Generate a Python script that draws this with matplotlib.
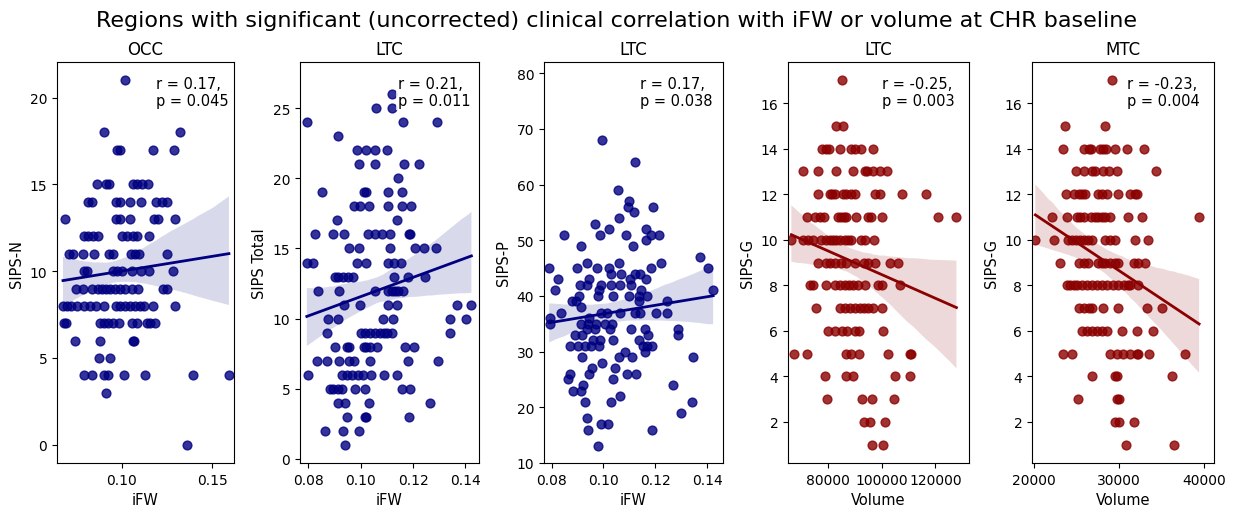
import numpy as np
import matplotlib
matplotlib.use("Agg")
import matplotlib.pyplot as plt
import seaborn as sns

# ── Data ─────────────────────────────────────────────────────────────────────
# Panel 1: OCC, iFW vs SIPS-N
occ_ifw = [
    0.1018,
    0.0904, 0.1322,
    0.0972, 0.0991, 0.1171, 0.1290,
    0.0862, 0.0914, 0.0932, 0.1061, 0.1083, 0.1110, 0.1147,
    0.0813, 0.0838, 0.0967, 0.0991, 0.1046, 0.1105, 0.1189, 0.1221, 0.1252,
    0.0688, 0.0967, 0.0991, 0.1046, 0.1180, 0.1199, 0.1294,
    0.0792, 0.0816, 0.0840, 0.0871, 0.1000, 0.1031, 0.1064, 0.1086, 0.1153,
    0.0706, 0.0733, 0.0783, 0.0849, 0.0932, 0.0954, 0.1050, 0.1074, 0.1097, 0.1252,
    0.0789, 0.0807, 0.0949, 0.0972, 0.1000, 0.1055, 0.1105, 0.1153, 0.1281,
    0.0746, 0.0785, 0.0838, 0.0866, 0.0890, 0.0914, 0.0936, 0.0963, 0.0991, 0.1018,
    0.1055, 0.1092, 0.1230, 0.1248,
    0.0675, 0.0697, 0.0719, 0.0752, 0.0789, 0.0822, 0.0858, 0.0899, 0.0969, 0.0991,
    0.1018, 0.1046, 0.1074, 0.1101, 0.1123, 0.1175, 0.1294,
    0.0678, 0.0693, 0.0881, 0.0904, 0.0926, 0.0954, 0.0982, 0.1055, 0.1086, 0.1138,
    0.1156, 0.1184,
    0.0743, 0.0881, 0.1064, 0.1070,
    0.0875, 0.0936,
    0.0789, 0.0838, 0.0904, 0.0926, 0.1013, 0.1129, 0.1395, 0.1592,
    0.0914,
    0.1358,
]
occ_sips_n = [
    21,
    18, 18,
    17, 17, 17, 17,
    15, 15, 15, 15, 15, 15, 15,
    14, 14, 14, 14, 14, 14, 14, 14, 14,
    13, 13, 13, 13, 13, 13, 13,
    12, 12, 12, 12, 12, 12, 12, 12, 12,
    11, 11, 11, 11, 11, 11, 11, 11, 11, 11,
    10, 10, 10, 10, 10, 10, 10, 10, 10,
    9, 9, 9, 9, 9, 9, 9, 9, 9, 9,
    9, 9, 9, 9,
    8, 8, 8, 8, 8, 8, 8, 8, 8, 8,
    8, 8, 8, 8, 8, 8, 8,
    7, 7, 7, 7, 7, 7, 7, 7, 7, 7,
    7, 7,
    6, 6, 6, 6,
    5, 5,
    4, 4, 4, 4, 4, 4, 4, 4,
    3,
    0,
]

# Panel 2: LTC, iFW vs SIPS Total
ltc_tot_ifw = [
    0.1118,
    0.1057, 0.1118,
    0.0794, 0.1162, 0.1293,
    0.0914,
    0.0984, 0.1019, 0.1054, 0.1102,
    0.0994, 0.1054, 0.1165, 0.1222,
    0.1143,
    0.0853, 0.1014, 0.1020, 0.1105, 0.1156,
    0.0975, 0.0997, 0.1031, 0.1105, 0.1158, 0.1191,
    0.0908, 0.1137,
    0.0825, 0.0895, 0.0937, 0.1029, 0.1054, 0.1082, 0.1111, 0.1184, 0.1188,
    0.0956, 0.0993, 0.1111, 0.1209, 0.1242, 0.1286,
    0.0794, 0.0819, 0.0984, 0.1020, 0.1105, 0.1127, 0.1153,
    0.0902, 0.0914, 0.0933, 0.0953, 0.0972, 0.1127, 0.1181, 0.1245,
    0.0836, 0.0917, 0.1054, 0.1105, 0.1118, 0.1130, 0.1143, 0.1160,
    0.0937, 0.0997, 0.1105, 0.1139, 0.1369, 0.1423,
    0.0874, 0.0914, 0.1086, 0.1124, 0.1340, 0.1401,
    0.0872, 0.1000, 0.1016, 0.1035, 0.1054, 0.1073, 0.1090, 0.1102, 0.1118, 0.1340,
    0.0902, 0.0946, 0.0955, 0.1014, 0.1022, 0.1035, 0.1064, 0.1169, 0.1204,
    0.0832, 0.0872, 0.0918, 0.0955, 0.0975, 0.1035, 0.1179, 0.1296,
    0.0797, 0.0927, 0.0946, 0.0968, 0.0991, 0.1010, 0.1041, 0.1090, 0.1137,
    0.0883, 0.0895, 0.0914, 0.0927, 0.0978, 0.1016, 0.1156, 0.1188,
    0.0912, 0.0940, 0.1031, 0.1264,
    0.0949, 0.1016, 0.1022, 0.1185,
    0.0864, 0.0933, 0.0994,
    0.0940,
]
ltc_tot_sips = [
    26,
    25, 25,
    24, 24, 24,
    23,
    22, 22, 22, 22,
    21, 21, 21, 21,
    20,
    19, 19, 19, 19, 19,
    18, 18, 18, 18, 18, 18,
    17, 17,
    16, 16, 16, 16, 16, 16, 16, 16, 16,
    15, 15, 15, 15, 15, 15,
    14, 14, 14, 14, 14, 14, 14,
    13, 13, 13, 13, 13, 13, 13, 13,
    12, 12, 12, 12, 12, 12, 12, 12,
    11, 11, 11, 11, 11, 11,
    10, 10, 10, 10, 10, 10,
    9, 9, 9, 9, 9, 9, 9, 9, 9, 9,
    8, 8, 8, 8, 8, 8, 8, 8, 8,
    7, 7, 7, 7, 7, 7, 7, 7,
    6, 6, 6, 6, 6, 6, 6, 6, 6,
    5, 5, 5, 5, 5, 5, 5, 5,
    4, 4, 4, 4,
    3, 3, 3, 3,
    2, 2, 2,
    1,
]

# Panel 3: LTC, iFW vs SIPS-P
ltc_p_ifw = [
    0.0996, 0.1121, 0.1056, 0.1099, 0.1095, 0.1117, 0.1191, 0.1059, 0.0967, 0.1021,
    0.0986, 0.0847, 0.1086, 0.1163, 0.1181, 0.1214, 0.1163, 0.0915, 0.1112, 0.1370,
    0.1403, 0.1422, 0.0791, 0.0935, 0.0899, 0.0976, 0.1022, 0.1027, 0.1060, 0.1069,
    0.0826, 0.0945, 0.0909, 0.0937, 0.0992, 0.1028, 0.1063, 0.1101, 0.1121, 0.1140,
    0.1165, 0.1181, 0.1223, 0.1104, 0.0813, 0.0983, 0.1146, 0.0906, 0.0979, 0.1037,
    0.1099, 0.1137, 0.1168, 0.0877, 0.0896, 0.1245, 0.0915, 0.1136, 0.0835, 0.0794,
    0.0794, 0.0944, 0.0992, 0.1012, 0.1063, 0.1121, 0.1140, 0.0941, 0.0973, 0.1005,
    0.1031, 0.0915, 0.1204, 0.1246, 0.0935, 0.0967, 0.1024, 0.1104, 0.1159, 0.0890,
    0.0918, 0.1172, 0.1287, 0.1285, 0.0960, 0.0986, 0.1037, 0.1137, 0.0871, 0.0903,
    0.0928, 0.0950, 0.0983, 0.1153, 0.1168, 0.1187, 0.1159, 0.1082, 0.0918, 0.1059,
    0.1108, 0.1345, 0.0995, 0.1044, 0.0954, 0.0945, 0.0873, 0.1091, 0.1127, 0.0864,
    0.1035, 0.0922, 0.1268, 0.0883, 0.0915, 0.1063, 0.1028, 0.0928, 0.1342, 0.1300,
    0.0935, 0.0992, 0.1018, 0.0941, 0.1185, 0.0979,
]
ltc_p_sips = [
    68, 64, 59, 57, 56, 55, 56, 54, 53, 52,
    51, 51, 51, 52, 51, 51, 50, 49, 49, 47,
    45, 41, 45, 46, 45, 45, 45, 44, 46, 44,
    43, 43, 42, 42, 42, 42, 42, 43, 44, 44,
    43, 45, 46, 42, 41, 41, 41, 40, 40, 40,
    40, 40, 40, 39, 39, 39, 38, 39, 37, 36,
    35, 36, 37, 37, 37, 37, 37, 35, 35, 35,
    35, 35, 37, 37, 34, 34, 34, 34, 34, 33,
    33, 33, 34, 33, 32, 32, 32, 32, 31, 31,
    31, 31, 31, 31, 31, 31, 30, 30, 29, 29,
    29, 29, 28, 27, 27, 26, 26, 26, 26, 25,
    25, 24, 24, 23, 23, 22, 21, 21, 21, 19,
    18, 17, 17, 16, 16, 13,
]

# Panel 4: LTC, volume vs SIPS-G
ltc_vol = [
    85216,
    83105, 85589,
    77764, 79379, 80248, 84347, 88694, 90184, 92172, 96767,
    70685, 76274, 83105, 89315, 93662, 94656, 96767, 99251, 102108,
    76274, 80621, 81490, 82484, 85589, 86831, 88694, 89936, 97636, 99251,
    107572, 116639,
    72300, 75280, 76895, 78510, 83726, 84968, 85962, 86831, 90557, 94904,
    95898, 100120, 120986, 127817,
    66338, 70685, 72548, 74411, 77516, 79379, 80621, 81863, 83105, 84347,
    86210, 87452, 88694, 92420, 93662, 97140,
    76274, 79379, 80621, 82484, 84968, 86831, 89936, 93414, 94904, 97388,
    102977, 106082,
    73169, 74411, 79379, 82484, 84347, 86210, 87700, 89315, 91178, 93910,
    98630, 100120, 106703,
    75653, 84347, 86210, 88073, 89936, 91799, 93414, 94904, 96767, 100120,
    80000, 82484, 85216, 87204, 90184, 91426, 100493,
    67332, 72300, 86831, 88694, 91426, 102356, 110429, 111050,
    79006, 86831, 89315, 104840, 110429,
    79752, 92668, 96394, 104592,
    93414, 95525, 101362,
    96394, 100493,
]
ltc_sips_g = [
    17,
    15, 15,
    14, 14, 14, 14, 14, 14, 14, 14,
    13, 13, 13, 13, 13, 13, 13, 13, 13,
    12, 12, 12, 12, 12, 12, 12, 12, 12, 12,
    12, 12,
    11, 11, 11, 11, 11, 11, 11, 11, 11, 11,
    11, 11, 11, 11,
    10, 10, 10, 10, 10, 10, 10, 10, 10, 10,
    10, 10, 10, 10, 10, 10,
    9, 9, 9, 9, 9, 9, 9, 9, 9, 9,
    9, 9,
    8, 8, 8, 8, 8, 8, 8, 8, 8, 8,
    8, 8, 8,
    7, 7, 7, 7, 7, 7, 7, 7, 7, 7,
    6, 6, 6, 6, 6, 6, 6,
    5, 5, 5, 5, 5, 5, 5, 5,
    4, 4, 4, 4, 4,
    3, 3, 3, 3,
    2, 2, 2,
    1, 1,
]

# Panel 5: MTC, volume vs SIPS-G
mtc_vol = [
    29165,
    23705, 28385,
    23432, 25850, 26435, 26708, 27800, 28112, 28502, 29555, 30998, 32987,
    24953, 25850, 26825, 27215, 28112, 28892, 29828, 34352,
    23822, 24758, 25265, 25655, 26045, 27605, 27995, 28580, 29945, 31310,
    31895, 32168,
    22145, 23900, 25070, 25460, 25850, 26708, 27215, 27605, 27995, 28385,
    28970, 31115, 32675, 39422,
    20195, 22340, 23978, 24485, 24992, 25460, 25850, 26318, 26825, 28385,
    28970, 29555, 31895, 33377,
    23042, 25265, 25850, 26318, 27605, 27995, 28385, 28970, 29555, 29945,
    31778, 32285, 33065,
    23900, 24290, 24680, 25070, 25655, 26240, 26825, 27410, 27995, 28658,
    29282, 29945, 30608, 31115, 31310, 32285,
    25265, 25850, 26435, 26825, 28190, 29945, 33338, 35015,
    25655, 26240, 26825, 27410, 27995, 28658, 30335, 32168, 33962,
    23432, 24485, 28970, 29828, 30530, 31310, 32090, 32285, 33572, 37745,
    26825, 29555, 29828, 36185,
    25187, 29828, 30062,
    29555, 30062, 31778,
    30842, 36458,
]
mtc_sips_g = [
    17,
    15, 15,
    14, 14, 14, 14, 14, 14, 14, 14, 14, 14,
    13, 13, 13, 13, 13, 13, 13, 13,
    12, 12, 12, 12, 12, 12, 12, 12, 12, 12,
    12, 12,
    11, 11, 11, 11, 11, 11, 11, 11, 11, 11,
    11, 11, 11, 11,
    10, 10, 10, 10, 10, 10, 10, 10, 10, 10,
    10, 10, 10, 10,
    9, 9, 9, 9, 9, 9, 9, 9, 9, 9,
    9, 9, 9,
    8, 8, 8, 8, 8, 8, 8, 8, 8, 8,
    8, 8, 8, 8, 8, 8,
    7, 7, 7, 7, 7, 7, 7, 7,
    6, 6, 6, 6, 6, 6, 6, 6, 6,
    5, 5, 5, 5, 5, 5, 5, 5, 5, 5,
    4, 4, 4, 4,
    3, 3, 3,
    2, 2, 2,
    1, 1,
]

titles = ["OCC", "LTC", "LTC", "LTC", "MTC"]
xlabels = ["iFW", "iFW", "iFW", "Volume", "Volume"]
ylabels = ["SIPS-N", "SIPS Total", "SIPS-P", "SIPS-G", "SIPS-G"]
stats = ["r = 0.17,\np = 0.045", "r = 0.21,\np = 0.011", "r = 0.17,\np = 0.038",
         "r = -0.25,\np = 0.003", "r = -0.23,\np = 0.004"]

xs = [occ_ifw, ltc_tot_ifw, ltc_p_ifw, ltc_vol, mtc_vol]
ys = [occ_sips_n, ltc_tot_sips, ltc_p_sips, ltc_sips_g, mtc_sips_g]
colors = ["navy", "navy", "navy", "darkred", "darkred"]

xticks = [[0.10, 0.15], [0.08, 0.10, 0.12, 0.14], [0.08, 0.10, 0.12, 0.14],
          [80000, 100000, 120000], [20000, 30000, 40000]]
yticks = [[0, 5, 10, 15, 20], [0, 5, 10, 15, 20, 25], [10, 20, 30, 40, 50, 60, 70, 80],
          [2, 4, 6, 8, 10, 12, 14, 16], [2, 4, 6, 8, 10, 12, 14, 16]]
xlims = [(0.0642, 0.1620), (0.0768, 0.1452), (0.0771, 0.1460),
         (65100, 132500), (19800, 41170)]
ylims = [(-1.05, 22.05), (-0.3, 28.3), (10.0, 82.0), (0.2, 17.8), (0.2, 17.8)]

# ── Layout (pixel positions measured on the 1234x510 reference) ──────────────
W, H = 1234, 510
lefts = [57, 300, 544, 788, 1032]
widths = [177, 179, 179, 181, 182]
top_px, bot_px = 63, 464
text_x = [0.559, 0.547, 0.536, 0.519, 0.522]

fig = plt.figure(figsize=(W / 100, H / 100), dpi=100)

for i in range(5):
    ax = fig.add_axes([lefts[i] / W, (H - bot_px) / H, widths[i] / W, (bot_px - top_px) / H])
    sns.regplot(x=np.array(xs[i]), y=np.array(ys[i]), ax=ax, color=colors[i],
                seed=0, scatter_kws={"s": 40}, line_kws={"lw": 2})
    ax.set_xlim(*xlims[i])
    ax.set_ylim(*ylims[i])
    ax.set_xticks(xticks[i])
    ax.set_yticks(yticks[i])
    ax.tick_params(labelsize=10)
    ax.set_title(titles[i], fontsize=12)
    ax.set_xlabel(xlabels[i], fontsize=10.5)
    ax.set_ylabel(ylabels[i], fontsize=10.5)
    ax.text(text_x[i], 0.925, stats[i], transform=ax.transAxes,
            ha="left", va="center", fontsize=10.5, zorder=10,
            bbox=dict(facecolor="white", edgecolor="none", alpha=0.8, pad=1))

fig.suptitle("Regions with significant (uncorrected) clinical correlation with iFW or volume at CHR baseline",
             fontsize=16, y=0.978)

fig.savefig("out.png", dpi=100)
